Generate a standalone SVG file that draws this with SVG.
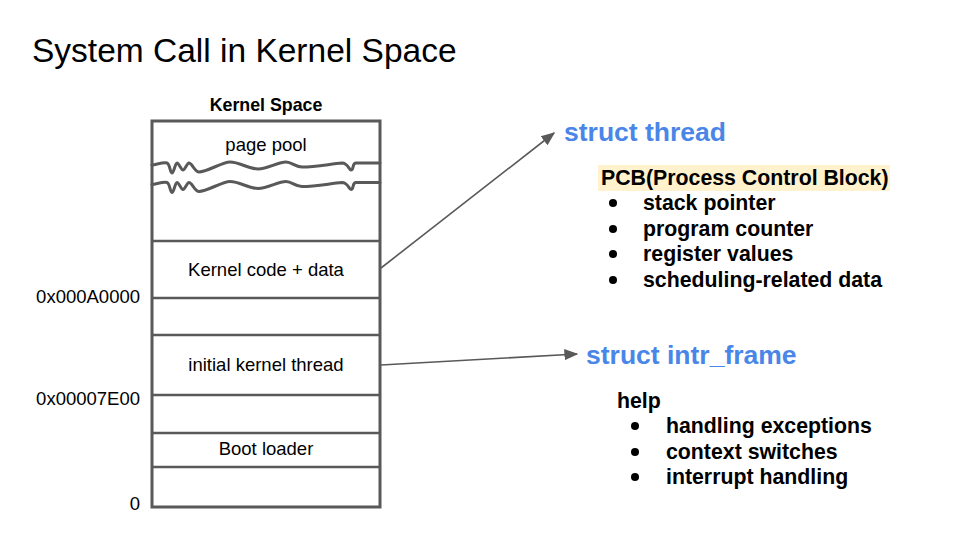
<svg xmlns="http://www.w3.org/2000/svg" width="960" height="540" viewBox="0 0 960 540">
<defs>
<style>
.t{font-family:"Liberation Sans",Arial,sans-serif;fill:#000}
.r{font-size:18.5px}
.b{font-weight:bold;font-size:21.3px}
.s{font-family:"Liberation Sans",Arial,sans-serif;font-weight:bold;font-size:26.5px;fill:#4a86e8}
.div{stroke:#595959;stroke-width:2.5;fill:none}
.wave{stroke:#595959;stroke-width:3;fill:none;stroke-linejoin:round;stroke-linecap:round}
.con{stroke:#595959;stroke-width:1.6;fill:none}
.dot{fill:#000}
</style>
<marker id="ah2" viewBox="0 0 10 10" refX="9" refY="5" markerWidth="14" markerHeight="14" markerUnits="userSpaceOnUse" orient="auto">
<path d="M0,1 L10,5 L0,9 z" fill="#595959"/>
</marker>
<path id="wv" d="M152,165 C158,164 164,162 167,163 C170,164 170,173 172,173 C174,173 175,163 177,163 C179,163 181,170 183,170 C185,170 187,163 189,163 C192,163 195,172 199,172 C207,172 222,162 230,162 C240,162 248,169 258,169 C268,169 278,162 286,162 C292,162 295,167 302,167 C316,167 330,164 342,163 C348,163 349,170 351,170 C354,170 352,163 356,163 L380,163"/>
</defs>
<rect width="960" height="540" fill="#fff"/>
<text class="t" x="32" y="62" font-size="33.5">System Call in Kernel Space</text>

<g id="memory">
<text class="t" x="266" y="111" text-anchor="middle" font-size="17.8" font-weight="bold">Kernel Space</text>
<rect x="152" y="121" width="228" height="386" fill="none" stroke="#595959" stroke-width="3"/>
<line class="div" x1="152" y1="241" x2="380" y2="241"/>
<line class="div" x1="152" y1="298" x2="380" y2="298"/>
<line class="div" x1="152" y1="335" x2="380" y2="335"/>
<line class="div" x1="152" y1="395" x2="380" y2="395"/>
<line class="div" x1="152" y1="433" x2="380" y2="433"/>
<line class="div" x1="152" y1="467" x2="380" y2="467"/>
<use href="#wv" class="wave"/>
<use href="#wv" class="wave" transform="translate(0,19.5)"/>
<text class="t r" x="266" y="151" text-anchor="middle">page pool</text>
<text class="t r" x="266" y="276" text-anchor="middle">Kernel code + data</text>
<text class="t r" x="266" y="371" text-anchor="middle">initial kernel thread</text>
<text class="t r" x="266" y="455" text-anchor="middle">Boot loader</text>
<text class="t r" x="140" y="303" text-anchor="end">0x000A0000</text>
<text class="t r" x="140" y="405" text-anchor="end">0x00007E00</text>
<text class="t r" x="140" y="510" text-anchor="end">0</text>
</g>

<g id="connectors">
<line class="con" x1="381" y1="268" x2="554" y2="133" marker-end="url(#ah2)"/>
<line class="con" x1="381" y1="365" x2="577" y2="354" marker-end="url(#ah2)"/>
</g>

<g id="thread">
<text class="s" x="564" y="141">struct thread</text>
<rect x="598" y="165" width="292" height="26" fill="#fff2cc"/>
<text class="t b" x="601" y="185">PCB(Process Control Block)</text>
<circle class="dot" cx="613" cy="203" r="4"/>
<circle class="dot" cx="613" cy="229" r="4"/>
<circle class="dot" cx="613" cy="254" r="4"/>
<circle class="dot" cx="613" cy="280" r="4"/>
<text class="t b" x="643" y="210">stack pointer</text>
<text class="t b" x="643" y="236">program counter</text>
<text class="t b" x="643" y="261">register values</text>
<text class="t b" x="643" y="287">scheduling-related data</text>
</g>

<g id="intr_frame">
<text class="s" x="586" y="364">struct intr_frame</text>
<text class="t b" x="617" y="408">help</text>
<circle class="dot" cx="635" cy="426" r="4"/>
<circle class="dot" cx="635" cy="452" r="4"/>
<circle class="dot" cx="635" cy="477" r="4"/>
<text class="t b" x="666" y="433">handling exceptions</text>
<text class="t b" x="666" y="459">context switches</text>
<text class="t b" x="666" y="484">interrupt handling</text>
</g>
</svg>
